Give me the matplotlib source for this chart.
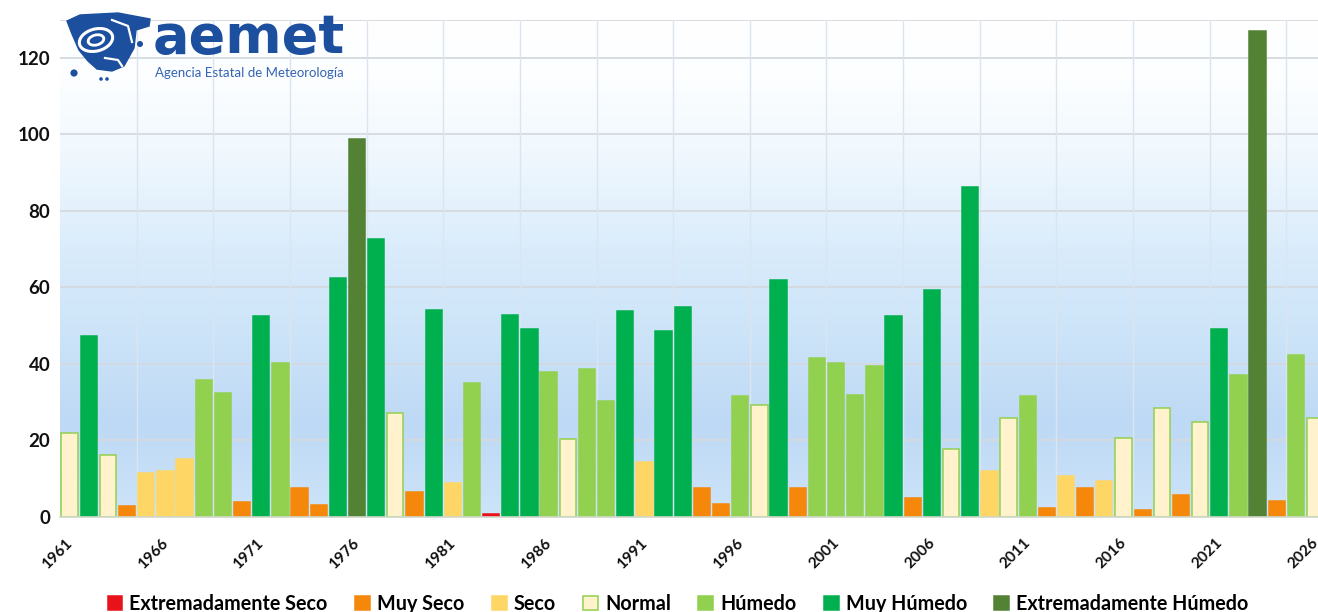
import matplotlib
matplotlib.use("Agg")
import matplotlib.pyplot as plt
import matplotlib.transforms as mtransforms
from matplotlib.patches import Patch, Polygon, Ellipse, Circle
from matplotlib.colors import LinearSegmentedColormap
import numpy as np

# data -----------------------------------------------------------------
years = list(range(1961, 2027))
values = [
    22.0, 47.4, 16.1, 2.8, 11.6, 12.1, 15.2, 35.7, 32.4, 3.9,
    52.4, 40.3, 7.7, 3.1, 62.5, 98.9, 72.7, 27.3, 6.5, 54.0,
    8.9, 35.0, 0.9, 52.7, 49.0, 37.9, 20.4, 38.8, 30.4, 53.9,
    14.3, 48.6, 55.0, 7.7, 3.5, 31.5, 29.3, 62.0, 7.7, 41.5,
    40.3, 31.9, 39.5, 52.4, 5.0, 59.4, 17.7, 86.2, 12.1, 26.0,
    31.5, 2.3, 10.8, 7.7, 9.3, 20.7, 1.9, 28.4, 5.8, 24.9,
    49.0, 37.0, 126.9, 4.3, 42.4, 26.0,
]
categories = [
    "N", "MH", "N", "MS", "S", "S", "S", "H", "H", "MS",
    "MH", "H", "MS", "MS", "MH", "EH", "MH", "N", "MS", "MH",
    "S", "H", "ES", "MH", "MH", "H", "N", "H", "H", "MH",
    "S", "MH", "MH", "MS", "MS", "H", "N", "MH", "MS", "H",
    "H", "H", "H", "MH", "MS", "MH", "N", "MH", "S", "N",
    "H", "MS", "S", "MS", "S", "N", "MS", "N", "MS", "N",
    "MH", "H", "EH", "MS", "H", "N",
]
legend_keys = ["ES", "MS", "S", "N", "H", "MH", "EH"]
legend_labels = ["Extremadamente Seco", "Muy Seco", "Seco", "Normal",
                 "Húmedo", "Muy Húmedo", "Extremadamente Húmedo"]
tick_years = list(range(1961, 2027, 5))

# styles ---------------------------------------------------------------
FILL = {"ES": "#e8121b", "MS": "#f5870a", "S": "#fdd666", "N": "#fff2cc",
        "H": "#92d050", "MH": "#00b04f", "EH": "#548235"}
EDGE = dict(FILL)
EDGE["N"] = "#92d050"
BLUE = "#1d4f9f"

plt.rcParams["font.family"] = ["Lato", "DejaVu Sans"]

W, H = 1318, 612
fig = plt.figure(figsize=(W / 100, H / 100), dpi=100)
ax = fig.add_axes([60 / W, 1 - 517 / H, 1 - 60 / W, (517 - 19.5) / H])

x0, x1 = 1960.5, 2026.15
ax.set_xlim(x0, x1)
ax.set_ylim(0, 130)

# gradient background, white on top to light blue near the bottom
stops = [(0.0, "#cde4f9"), (0.19, "#bed9f5"), (0.35, "#cbe3f8"),
         (0.54, "#daecfb"), (0.73, "#f0f8fe"), (0.88, "#fcfeff"),
         (1.0, "#ffffff")]
cmap = LinearSegmentedColormap.from_list("bg", stops)
grad = np.linspace(0, 1, 256).reshape(-1, 1)
ax.imshow(grad, cmap=cmap, origin="lower", aspect="auto",
          extent=[x0, x1, 0, 130], zorder=-2)

ax.bar(years, values, width=0.85,
       color=[FILL[c] for c in categories],
       edgecolor=[EDGE[c] for c in categories], linewidth=1.1, zorder=2)

# grid
ax.set_yticks(range(0, 121, 20))
for v in list(range(20, 121, 20)) + [130]:
    ax.axhline(v, color="#d4d9de", lw=1.3, zorder=-1)
for gx in np.arange(1964.5, 2026, 4):
    ax.axvline(gx, color="#dbe5ef", lw=1.0, zorder=-1)

for s in ["top", "right", "left"]:
    ax.spines[s].set_visible(False)
ax.spines["bottom"].set_color("#d0d8c8")
ax.spines["bottom"].set_linewidth(1.2)

ax.set_xticks(tick_years)
ax.set_xticklabels([str(y) for y in tick_years], rotation=45, ha="right",
                   va="top", rotation_mode="anchor", fontsize=11.2,
                   fontweight="bold", color="#111111")
ax.tick_params(axis="x", length=0, pad=13.5)
ax.tick_params(axis="y", length=0, pad=7, labelsize=13.5, labelcolor="#111111")
for lab in ax.get_yticklabels():
    lab.set_fontweight("bold")
# nudge the year labels a little left so the last one stays inside
shift = mtransforms.ScaledTranslation(-4 / 100, 0, fig.dpi_scale_trans)
for lab in ax.get_xticklabels():
    lab.set_transform(lab.get_transform() + shift)

# legend
handles = [Patch(facecolor=FILL[k], edgecolor=EDGE[k], linewidth=1.1)
           for k in legend_keys]
fig.legend(handles, legend_labels, loc="center", ncol=7,
           bbox_to_anchor=(678 / W, 1 - 604 / H), frameon=False,
           handlelength=0.75, handleheight=0.75, handletextpad=0.35,
           columnspacing=1.4, prop={"size": 14.2, "weight": "bold"})

# logo overlay
lax = fig.add_axes([0, 0, 1, 1], zorder=5)
lax.set_xlim(0, W)
lax.set_ylim(H, 0)
lax.axis("off")
shape = [(67, 21), (80, 15), (118, 13), (150, 19), (149, 26), (136, 30),
         (134, 48), (124, 66), (112, 71), (97, 69), (88, 61), (79, 50),
         (72, 34)]
lax.add_patch(Polygon(shape, closed=True, fc=BLUE, ec=BLUE, lw=1))
lax.add_patch(Ellipse((96, 40), 34, 22, angle=-15, fc="none", ec="white", lw=2.2))
lax.add_patch(Ellipse((96, 40), 16, 10, angle=-15, fc="none", ec="white", lw=2.0))
lax.plot([112, 128, 132], [20, 26, 42], color="white", lw=1.6)
lax.plot([105, 118, 122], [58, 60, 66], color="white", lw=1.6)
lax.add_patch(Circle((74, 73), 3.6, fc=BLUE, ec="none"))
lax.add_patch(Circle((101, 79), 1.8, fc=BLUE, ec="none"))
lax.add_patch(Circle((107, 79), 1.8, fc=BLUE, ec="none"))
lax.add_patch(Circle((140, 44), 3.0, fc=BLUE, ec="none"))
lax.text(153, 53, "aemet", fontsize=39, fontweight="bold", color=BLUE,
         family="DejaVu Sans", ha="left", va="baseline")
lax.text(155, 77, "Agencia Estatal de Meteorología", fontsize=9.5,
         color="#3563b3", ha="left", va="baseline")

fig.savefig("out.png", dpi=100, facecolor="white")
